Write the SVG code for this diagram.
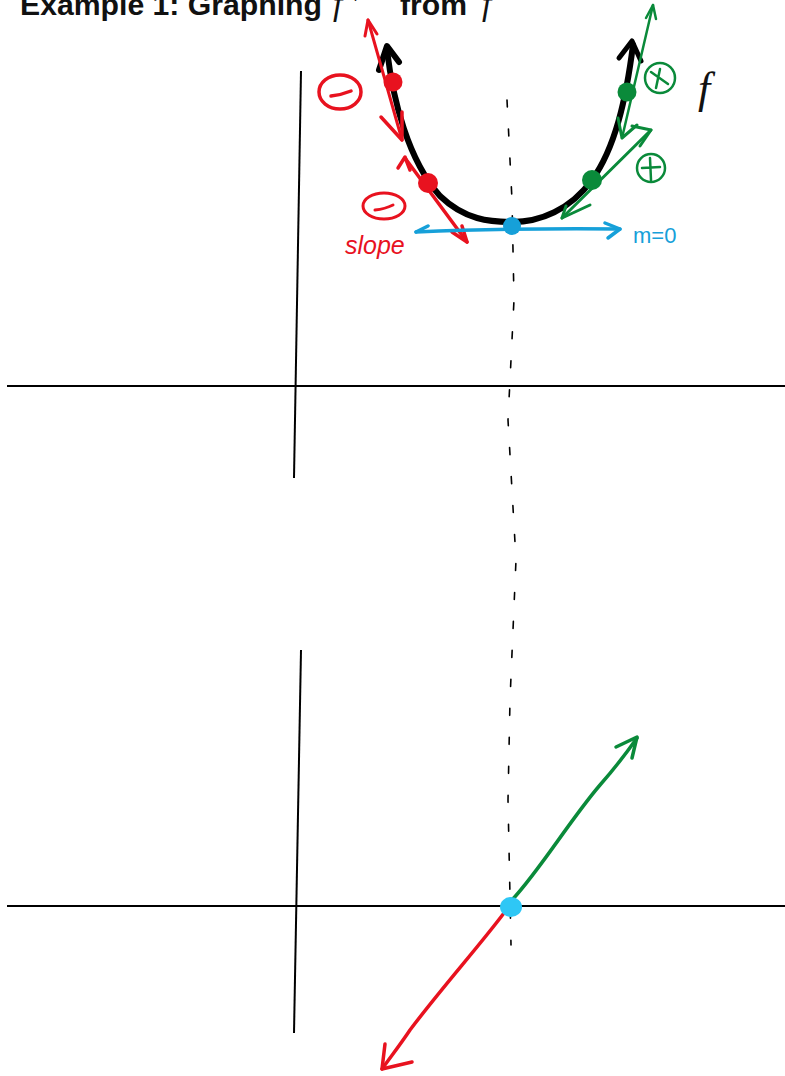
<svg xmlns="http://www.w3.org/2000/svg" width="785" height="1076" viewBox="0 0 785 1076">
<style>
.axis{stroke:#000;stroke-width:2;fill:none}
.ink{fill:none;stroke-linecap:round;stroke-linejoin:round}
.red{stroke:#e8121f}
.grn{stroke:#0a8a3a}
.blu{stroke:#16a0d9}
.title{font-family:"Liberation Sans",Arial,sans-serif;font-weight:bold;font-size:30px;fill:#111}
.math{font-family:"Liberation Serif","Times New Roman",serif;font-style:italic;fill:#111}
.hand{font-family:"Liberation Sans",Arial,sans-serif}
</style>
<rect width="785" height="1076" fill="#fff"/>
<g id="title">
<text class="title" x="20" y="15" textLength="302" lengthAdjust="spacingAndGlyphs">Example 1: Graphing</text>
<text class="math" x="333" y="15" font-size="34">f ′</text>
<text class="title" x="400" y="15" textLength="67" lengthAdjust="spacingAndGlyphs">from</text>
<text class="math" x="482" y="15" font-size="34">f</text>
</g>
<g id="axes-top">
<line class="axis" x1="301" y1="71" x2="294" y2="478"/>
<line class="axis" x1="7" y1="386" x2="785" y2="386"/>
</g>
<g id="axes-bottom">
<line class="axis" x1="301" y1="650" x2="294" y2="1033"/>
<line class="axis" x1="7" y1="906" x2="785" y2="906"/>
</g>
<g id="dashed-line">
<path d="M507,100 L512,200 L514,300 L508,420 L516,560 L510,700 L508,800 L511,945" fill="none" stroke="#000" stroke-width="1.6" stroke-dasharray="7 22" stroke-linecap="round"/>
</g>
<g id="curve-f">
<path class="ink" d="M387,50 C393,100 408,160 440,196 C465,220 490,222 512,222 C540,222 570,210 592,180 C615,148 626,100 633,45" stroke="#000" stroke-width="6"/>
<polyline class="ink" points="379,70 387,46 399,62" stroke="#000" stroke-width="6"/>
<polyline class="ink" points="619,58 632,41 641,61" stroke="#000" stroke-width="5"/>
<text class="math" x="698" y="103" font-size="44">f</text>
</g>
<g id="red-tangents">
<line class="ink red" x1="368" y1="20" x2="402" y2="140" stroke-width="3"/>
<polyline class="ink red" points="365,36 368,20 377,34" stroke-width="3"/>
<polyline class="ink red" points="381,117 402,140 402,112" stroke-width="3.5"/>
<circle cx="393" cy="82" r="9.5" fill="#e8121f"/>
<line class="ink red" x1="405" y1="158" x2="467" y2="242" stroke-width="3.5"/>
<polyline class="ink red" points="398,168 405,157 410,170" stroke-width="3.5"/>
<polyline class="ink red" points="452,232 467,242 462,226" stroke-width="3.5"/>
<circle cx="428" cy="183" r="10" fill="#e8121f"/>
<ellipse class="ink red" cx="340" cy="92" rx="21" ry="17" stroke-width="3.5"/>
<path class="ink red" d="M331,96 Q341,95 351,91" stroke-width="3.5"/>
<ellipse class="ink red" cx="384" cy="206" rx="21" ry="13" stroke-width="3"/>
<path class="ink red" d="M375,210 Q385,209 393,205" stroke-width="3"/>
<text class="hand" x="345" y="254" font-size="25" fill="#e8121f" font-style="italic">slope</text>
</g>
<g id="blue-tangent">
<path class="ink blu" d="M416,232 Q510,228 620,229" stroke-width="3.5"/>
<polyline class="ink blu" points="428,226 416,232" stroke-width="3.5"/>
<polyline class="ink blu" points="605,223 620,229 608,238" stroke-width="3.5"/>
<circle cx="512" cy="226" r="9" fill="#16a0d9"/>
<text class="hand" x="633" y="243" font-size="22" fill="#16a0d9">m=0</text>
</g>
<g id="green-tangents">
<line class="ink grn" x1="653" y1="5" x2="622" y2="138" stroke-width="2.5"/>
<polyline class="ink grn" points="646,18 653,5 656,19" stroke-width="2.5"/>
<polyline class="ink grn" points="618,118 622,138 637,125" stroke-width="3"/>
<circle cx="627" cy="92" r="9.5" fill="#0a8a3a"/>
<line class="ink grn" x1="651" y1="130" x2="562" y2="218" stroke-width="3"/>
<polyline class="ink grn" points="632,126 651,130 640,146" stroke-width="3"/>
<polyline class="ink grn" points="590,205 562,218 566,206" stroke-width="3"/>
<circle cx="592" cy="180" r="10" fill="#0a8a3a"/>
<circle class="ink grn" cx="660" cy="78" r="15" stroke-width="2.5"/>
<path class="ink grn" d="M651,72 L668,84 M660,69 L656,88" stroke-width="2.5"/>
<circle class="ink grn" cx="651" cy="168" r="14" stroke-width="2.5"/>
<path class="ink grn" d="M642,168 L660,167 M650,158 L651,180" stroke-width="2.5"/>
</g>
<g id="derivative-graph">
<path class="ink grn" d="M512,900 C540,870 570,820 600,785 C615,768 625,755 637,738" stroke-width="3.5"/>
<polyline class="ink grn" points="616,747 637,737 632,758" stroke-width="3.5"/>
<path class="ink red" d="M504,913 C480,945 440,990 410,1030 C400,1045 392,1055 382,1069" stroke-width="3.5"/>
<polyline class="ink red" points="385,1044 382,1069 412,1062" stroke-width="3.5"/>
<ellipse cx="511" cy="907" rx="11" ry="10" fill="#2ec7f5"/>
</g>
</svg>
